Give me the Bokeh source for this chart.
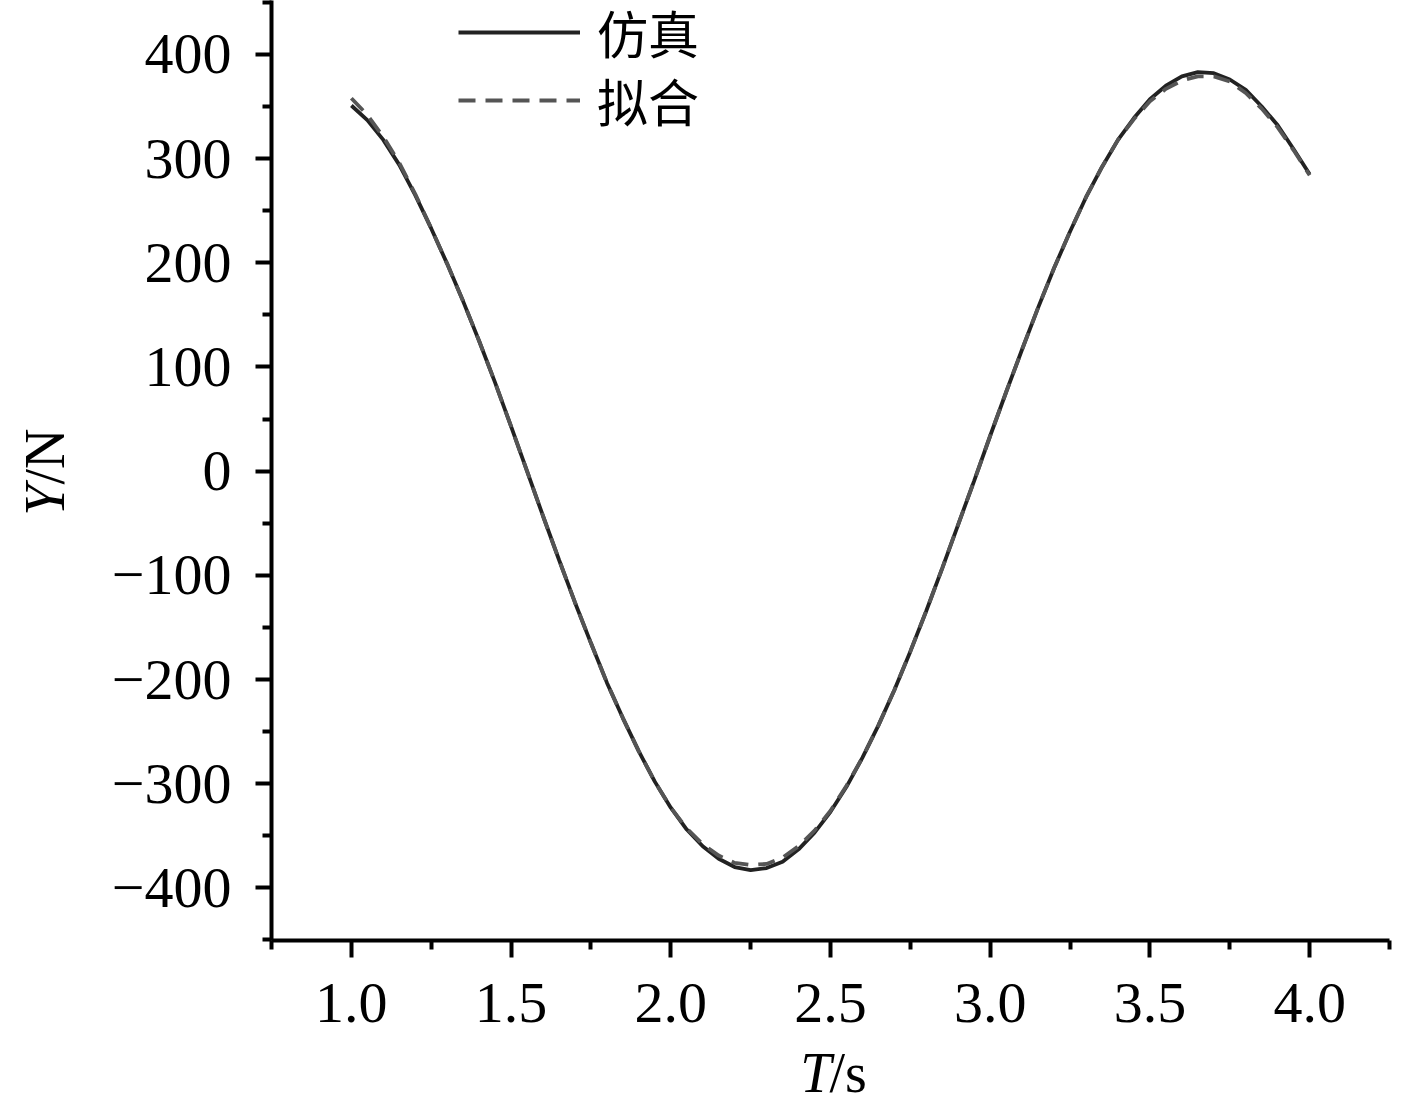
from bokeh.plotting import figure
from bokeh.layouts import column, row
from bokeh.models import Range1d, FixedTicker, Legend, LegendItem, Label
from bokeh.embed import file_html
from bokeh.resources import INLINE

# ---- data ----
t = [1.0, 1.05, 1.1, 1.15, 1.2, 1.25, 1.3, 1.35, 1.4, 1.45,
     1.5, 1.55, 1.6, 1.65, 1.7, 1.75, 1.8, 1.85, 1.9, 1.95,
     2.0, 2.05, 2.1, 2.15, 2.2, 2.25, 2.3, 2.35, 2.4, 2.45,
     2.5, 2.55, 2.6, 2.65, 2.7, 2.75, 2.8, 2.85, 2.9, 2.95,
     3.0, 3.05, 3.1, 3.15, 3.2, 3.25, 3.3, 3.35, 3.4, 3.45,
     3.5, 3.55, 3.6, 3.65, 3.7, 3.75, 3.8, 3.85, 3.9, 3.95, 4.0]
sim = [351, 337, 318, 294, 265, 233, 199, 163, 125, 85,
       43, 0, -43, -85, -126, -165, -203, -237, -269, -298,
       -323, -344, -360, -372, -380, -383, -381, -375, -363, -347,
       -327, -303, -275, -244, -210, -173, -134, -93, -51, -9,
       34, 76, 117, 157, 195, 230, 263, 292, 318, 339,
       357, 370, 379, 383, 382, 376, 366, 350, 332, 309, 285]
fit = [358, 342, 321, 296, 266, 233, 199, 163, 125, 85,
       43, 0, -43, -85, -126, -165, -203, -237, -269, -298,
       -323, -343, -358, -369, -376, -378, -377, -371, -360, -345,
       -326, -302, -275, -244, -210, -173, -134, -93, -51, -9,
       34, 76, 117, 157, 195, 230, 263, 292, 318, 338,
       355, 367, 375, 379, 379, 374, 363, 348, 330, 308, 284]

x_major = [1.0, 1.5, 2.0, 2.5, 3.0, 3.5, 4.0]
x_minor = [0.75, 1.25, 1.75, 2.25, 2.75, 3.25, 3.75, 4.25]
x_labels = ["1.0", "1.5", "2.0", "2.5", "3.0", "3.5", "4.0"]
y_major = [-400, -300, -200, -100, 0, 100, 200, 300, 400]
y_minor = [-450, -350, -250, -150, -50, 50, 150, 250, 350, 450]
y_labels = ["\u2212400", "\u2212300", "\u2212200", "\u2212100", "0", "100", "200", "300", "400"]
series_names = ["仿真", "拟合"]
x_title = ("T", "/s")
y_title = ("Y", "/N")

# ---- page geometry (pixels) ----
W, H = 1417, 1098
LEFT_W = 90                    # strip holding the y title
MAIN_H = 1050                  # strip below holds the x title
FL, FB, FR = 271, 940, 1389    # frame left / bottom / right on the page
SERIF = "Liberation Serif"


def blank(width, height):
    f = figure(width=width, height=height, output_backend="svg", toolbar_location=None,
               x_axis_type=None, y_axis_type=None, x_range=Range1d(0, 1), y_range=Range1d(0, 1),
               min_border=0, min_border_left=0, min_border_right=0,
               min_border_top=0, min_border_bottom=0)
    f.outline_line_color = None
    f.grid.visible = False
    f.background_fill_color = "white"
    f.border_fill_color = "white"
    return f


# ---- main figure ----
p = figure(width=W - LEFT_W, height=MAIN_H, output_backend="svg", toolbar_location=None,
           x_range=Range1d(0.75, 4.25), y_range=Range1d(-450.5, 451.8),
           min_border_left=FL - LEFT_W, min_border_right=W - FR, min_border_top=0,
           min_border_bottom=MAIN_H - FB)
p.outline_line_color = None
p.grid.visible = False
p.background_fill_color = "white"
p.border_fill_color = "white"

r_sim = p.line(t, sim, line_color="#222222", line_width=3.8)
r_fit = p.line(t, fit, line_color="#555555", line_width=3.8, line_dash="17 10")

for ax in (p.xaxis[0], p.yaxis[0]):
    ax.axis_line_width = 4
    ax.axis_line_color = "black"
    ax.major_tick_line_width = 4
    ax.minor_tick_line_width = 4
    ax.major_tick_in = 0
    ax.minor_tick_in = 0
    ax.major_label_text_font = SERIF
    ax.major_label_text_font_size = "58px"
    ax.major_label_text_color = "black"
    ax.axis_label = None

p.xaxis[0].ticker = FixedTicker(ticks=x_major, minor_ticks=x_minor)
p.xaxis[0].major_label_overrides = dict(zip(x_major, x_labels))
p.xaxis[0].major_tick_out = 17
p.xaxis[0].minor_tick_out = 9
p.xaxis[0].major_label_standoff = 26

p.yaxis[0].ticker = FixedTicker(ticks=y_major, minor_ticks=y_minor)
p.yaxis[0].major_label_overrides = dict(zip(y_major, y_labels))
p.yaxis[0].major_tick_out = 16
p.yaxis[0].minor_tick_out = 9
p.yaxis[0].major_label_standoff = 24

# ---- legends ----
for r, name, cy in ((r_sim, series_names[0], 32), (r_fit, series_names[1], 100)):
    lg = Legend(items=[LegendItem(label=name, renderers=[r])],
                location=(458 - FL, FB - cy - 40), orientation="vertical",
                glyph_width=122, glyph_height=80, label_height=80, label_standoff=17,
                padding=0, margin=0, spacing=0,
                label_text_font="Noto Sans CJK SC", label_text_font_size="51px",
                label_text_color="black",
                background_fill_alpha=0, border_line_alpha=0)
    p.add_layout(lg, "center")

# ---- y title strip (its frame is aligned with the main frame: top 0, bottom 940) ----
left = blank(LEFT_W, MAIN_H)
for txt, style, align in ((y_title[0], "italic", "right"), (y_title[1], "normal", "left")):
    left.add_layout(Label(x=44, y=FB - 484, x_units="screen", y_units="screen", text=txt,
                          angle=1.5707963, text_font=SERIF, text_font_size="56px",
                          text_font_style=style, text_align=align, text_baseline="alphabetic",
                          text_color="black"))

# ---- x title strip (bottom) ----
BOT_H = H - MAIN_H
bottom = blank(W, BOT_H)
for txt, style, align, xx in ((x_title[0], "italic", "right", 831), (x_title[1], "normal", "left", 829)):
    bottom.add_layout(Label(x=xx, y=26, x_units="screen", y_units="screen", text=txt,
                            text_font=SERIF, text_font_size="56px", text_font_style=style,
                            text_align=align, text_baseline="alphabetic", text_color="black"))

layout = column(row(left, p, spacing=0), bottom, spacing=0)
open("out.html", "w").write(file_html(layout, INLINE))
